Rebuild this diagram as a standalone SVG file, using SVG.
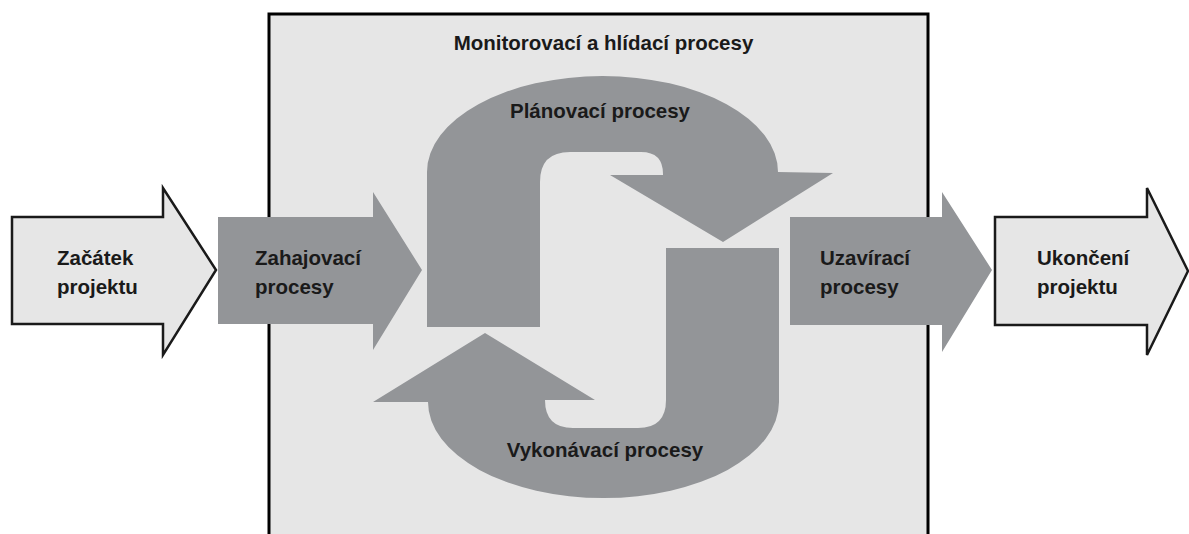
<svg xmlns="http://www.w3.org/2000/svg" width="1189" height="534" viewBox="0 0 1189 534">
  <style>
    .lbl { font-family: "Liberation Sans", Arial, sans-serif; font-weight: bold; font-size: 20.5px; fill: #1a1a1a; }
    .mid { text-anchor: middle; }
    .gray { fill: #939598; stroke: none; }
    .light { fill: #e6e6e6; stroke: #1a1a1a; stroke-width: 2.5; stroke-linejoin: miter; }
  </style>
  <rect x="0" y="0" width="1189" height="534" fill="#ffffff"/>

  <g id="monitoring">
    <rect x="269" y="14" width="659" height="530" fill="#e6e6e6" stroke="#000000" stroke-width="3"/>
    <text class="lbl mid" x="603.5" y="50">Monitorovací a hlídací procesy</text>
  </g>

  <g id="start">
    <path class="light" d="M12,217 L163,217 L163,188 L216,270 L163,355 L163,324 L12,324 Z"/>
    <text class="lbl" x="57" y="265">Začátek</text>
    <text class="lbl" x="57" y="294">projektu</text>
  </g>

  <g id="initiating">
    <path class="gray" d="M218,217 L373,217 L373,192 L422,270 L373,350 L373,324 L218,324 Z"/>
    <text class="lbl" x="255" y="265">Zahajovací</text>
    <text class="lbl" x="255" y="294">procesy</text>
  </g>

  <g id="planning">
    <path class="gray" d="M427,327 L427,172 A175.5,96 0 0 1 778,172 L833,173 L723,242 L610,175 L663,175 L663,174 Q663,152 641,152 L570,152 Q540,152 540,182 L540,327 Z"/>
    <text class="lbl mid" x="600" y="118">Plánovací procesy</text>
  </g>

  <g id="executing">
    <path class="gray" d="M666,248 L779,248 L779,402 A175.5,96 0 0 1 428,402 L373,402 L485,333 L595,400 L545,400 Q545,428 573,428 L638,428 Q666,428 666,400 Z"/>
    <text class="lbl mid" x="605" y="457">Vykonávací procesy</text>
  </g>

  <g id="closing">
    <path class="gray" d="M790,217 L942,217 L942,192 L992,270 L942,352 L942,325 L790,325 Z"/>
    <text class="lbl" x="820" y="265">Uzavírací</text>
    <text class="lbl" x="820" y="294">procesy</text>
  </g>

  <g id="end">
    <path class="light" d="M995,217 L1147,217 L1147,188 L1188,271 L1147,355 L1147,325 L995,325 Z"/>
    <text class="lbl" x="1037" y="265">Ukončení</text>
    <text class="lbl" x="1037" y="294">projektu</text>
  </g>

  <g id="connectors"></g>
</svg>
